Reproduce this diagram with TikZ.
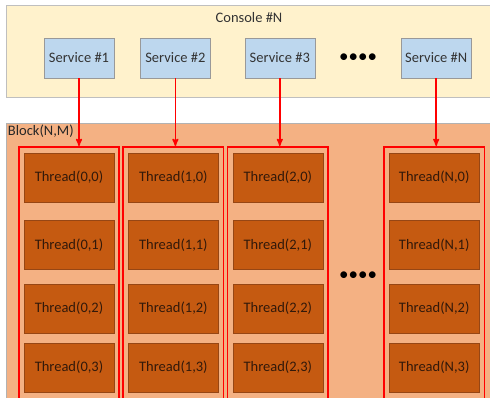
\documentclass[tikz,border=0pt]{standalone}
\usepackage{fontspec}
\setmainfont{Carlito}
\usetikzlibrary{arrows,shapes,positioning,fit}

\definecolor{consolefill}{RGB}{255,242,204}
\definecolor{servicefill}{RGB}{189,215,238}
\definecolor{blockfill}{RGB}{244,177,131}
\definecolor{threadfill}{RGB}{197,90,17}
\definecolor{threadline}{RGB}{150,70,20}
\definecolor{threadtext}{RGB}{50,25,10}

\begin{document}
\begin{tikzpicture}[x=1pt,y=-1pt,node distance=14pt,>=stealth',font=\fontsize{14.5}{17}\selectfont]

      \tikzstyle{console}=[rectangle,draw=black!25,fill=consolefill,minimum width=486pt,minimum height=92pt,inner sep=0pt]
      \tikzstyle{block}=[rectangle,draw=black!30,fill=blockfill,minimum width=486pt,minimum height=280pt,inner sep=0pt]
      \tikzstyle{service}=[rectangle,draw=black!40,fill=servicefill,text=black!80,minimum width=70pt,minimum height=40pt,inner sep=0pt]
      \tikzstyle{thread}=[rectangle,draw=threadline,fill=threadfill,text=threadtext,minimum width=90pt,minimum height=49pt,inner sep=0pt]
      \tikzstyle{group}=[rectangle,draw=red,line width=1.6pt,inner xsep=5pt,inner ysep=6pt]
      \tikzstyle{more}=[inner sep=0pt,font=\fontsize{19}{19}\selectfont]
      \tikzstyle{call}=[->,red,line width=1.5pt]

    \useasboundingbox (0,0) rectangle (490,398);
    \clip (0,0) rectangle (490,398);

        \node [console] (con) at (249,51) [label={[anchor=north,yshift=-4pt,text=black!80]north:Console \#N}] {};
        \node [block] (blk) at (249,263) [label={[anchor=north west,inner sep=2pt,text=black!85]north west:Block(N,M)}] {};

        \node [service] (s1) at (79,58) {Service \#1};
        \node [service] (s2) [right=26pt of s1] {Service \#2};
        \node [service] (s3) [right=34pt of s2] {Service \#3};
        \node [more] (sdots) [right=24pt of s3] {\textbullet\textbullet\textbullet\textbullet};
        \node [service] (sN) [right=86pt of s3] {Service \#N};

        % column 0
        \node [thread] (t00) at (69,177.5) {Thread(0,0)};
        \node [thread] (t01) [below=18pt of t00] {Thread(0,1)};
        \node [thread] (t02) [below=14pt of t01] {Thread(0,2)};
        \node [thread] (t03) [below=10pt of t02] {Thread(0,3)};
        % column 1
        \node [thread] (t10) [right=14pt of t00] {Thread(1,0)};
        \node [thread] (t11) [right=14pt of t01] {Thread(1,1)};
        \node [thread] (t12) [right=14pt of t02] {Thread(1,2)};
        \node [thread] (t13) [right=14pt of t03] {Thread(1,3)};
        % column 2
        \node [thread] (t20) [right=14pt of t10] {Thread(2,0)};
        \node [thread] (t21) [right=14pt of t11] {Thread(2,1)};
        \node [thread] (t22) [right=14pt of t12] {Thread(2,2)};
        \node [thread] (t23) [right=14pt of t13] {Thread(2,3)};
        % column N
        \node [thread] (tN0) [right=66pt of t20] {Thread(N,0)};
        \node [thread] (tN1) [right=66pt of t21] {Thread(N,1)};
        \node [thread] (tN2) [right=66pt of t22] {Thread(N,2)};
        \node [thread] (tN3) [right=66pt of t23] {Thread(N,3)};

        \node [more] (tdots) [right=16pt of t21.south east,yshift=-7pt] {\textbullet\textbullet\textbullet\textbullet};

        \node [group,fit=(t00)(t03)] (g0) {};
        \node [group,fit=(t10)(t13)] (g1) {};
        \node [group,fit=(t20)(t23)] (g2) {};
        \node [group,fit=(tN0)(tN3)] (gN) {};

        \draw [call] (s1.south) -- (s1.south |- g0.north);
        \draw [call] (s2.south) -- (s2.south |- g1.north);
        \draw [call] (s3.south) -- (s3.south |- g2.north);
        \draw [call] (sN.south) -- (sN.south |- gN.north);

    \end{tikzpicture}
\end{document}
